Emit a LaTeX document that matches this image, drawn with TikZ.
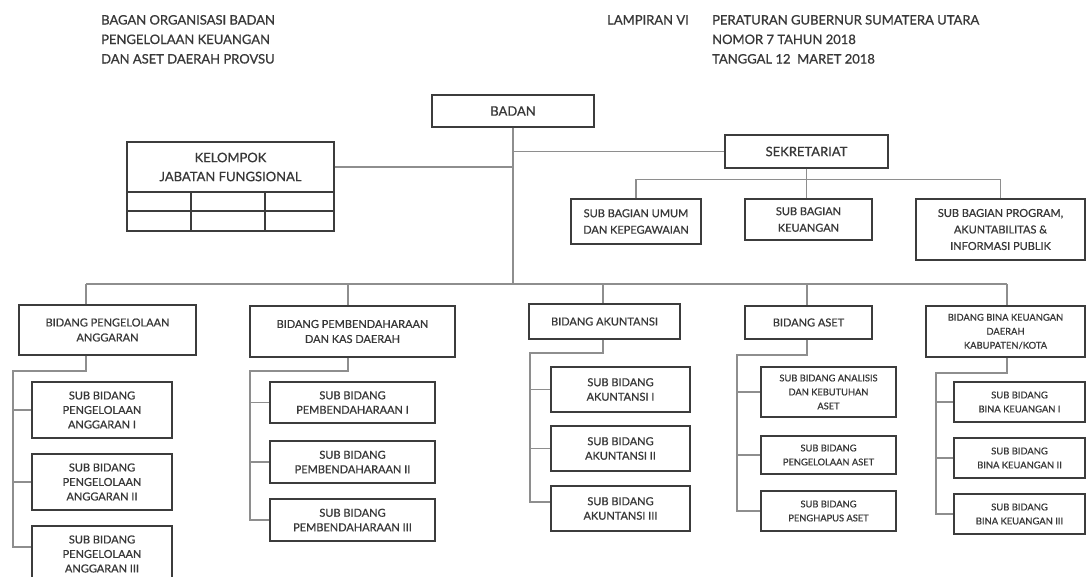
\documentclass[tikz,border=0pt]{standalone}
\usepackage{fontspec}
\setmainfont{Lato}[FakeBold=0.8]
\definecolor{garis}{HTML}{3C3C3C}
\definecolor{penghubung}{HTML}{8E8E8E}
\definecolor{tulisan}{HTML}{383838}

\begin{document}
\begin{tikzpicture}[x=1pt,y=-1pt,
	huruf/.style 2 args={font=\fontsize{#1}{#2}\selectfont},
	ukuran/.style 2 args={minimum width=#1pt, minimum height=#2pt},
	kotak/.style={draw=garis, line width=1.4pt, text=tulisan, align=center, inner sep=1pt},
	hub/.style={draw=penghubung, line width=1.1pt},
	judul/.style={anchor=base west, text=tulisan, inner sep=0pt, huruf={13}{20}}]
	\useasboundingbox (0,0) rectangle (1087,576);
	\clip (0,0) rectangle (1087,576);
	\node[judul] (judul1) at (101,24.5) {BAGAN ORGANISASI BADAN};
	\node[judul] (judul2) at (101,44) {PENGELOLAAN KEUANGAN};
	\node[judul] (judul3) at (101,63.5) {DAN ASET DAERAH PROVSU};
	\node[judul] (lampiran) at (607,24.5) {LAMPIRAN VI};
	\node[judul] (pergub1) at (712,24.5) {PERATURAN GUBERNUR SUMATERA UTARA};
	\node[judul] (pergub2) at (712,44) {NOMOR 7 TAHUN 2018};
	\node[judul] (pergub3) at (712,63.5) {TANGGAL 12\ \ MARET 2018};

	\node[kotak, ukuran={162}{32}, huruf={13}{17}] (badan) at (513,111) {BADAN};
	\node[kotak, ukuran={207}{50}, huruf={13}{19}] (kjf) at (230.5,167) {KELOMPOK\\JABATAN FUNGSIONAL};
	\draw[kotak] (127,192) rectangle (334,231);
	\draw[kotak] (127,211) -- (334,211);
	\foreach \x in {191,265} \draw[kotak] (\x,192) -- (\x,231);
	\node[kotak, ukuran={163}{33}, huruf={13}{17}] (sek) at (806.5,151.5) {SEKRETARIAT};
	\node[kotak, ukuran={130}{45}, huruf={11}{16.5}] (umum) at (636,221.5) {SUB BAGIAN UMUM\\DAN KEPEGAWAIAN};
	\node[kotak, ukuran={127}{41}, huruf={11}{16.5}] (keu) at (808.5,219.5) {SUB BAGIAN\\KEUANGAN};
	\node[kotak, ukuran={169}{61}, huruf={11}{16.5}] (prog) at (1000.5,229.5) {SUB BAGIAN PROGRAM,\\AKUNTABILITAS \&\\INFORMASI PUBLIK};

	\coordinate (bus1) at (86,284);
	\coordinate (bus2) at (348,284);
	\coordinate (bus3) at (603,284);
	\coordinate (bus4) at (807,284);
	\coordinate (bus5) at (1007,284);
	\draw[hub] (badan.south) -- (badan.south |- bus1);
	\draw[hub] (kjf.east) -- (kjf.east -| badan.south);
	\draw[hub] (sek.west -| badan.south) -- (sek.west);
	\draw[hub] (sek.south) -- (sek.south |- keu.north);
	\draw[hub] (umum.north) -- ++(0,-19) -| (prog.north);
	\draw[hub] (bus1) -- (bus5);

	\node[kotak, ukuran={177}{50}, huruf={11}{15}] (bpa) at (107.5,330) {BIDANG PENGELOLAAN\\ANGGARAN};
	\node[kotak, ukuran={205}{51}, huruf={11}{15}] (bpk) at (352.5,331.5) {BIDANG PEMBENDAHARAAN\\DAN KAS DAERAH};
	\node[kotak, ukuran={151}{35}, huruf={11}{15}] (akt) at (604.5,321.5) {BIDANG AKUNTANSI};
	\node[kotak, ukuran={127}{33}, huruf={11}{15}] (aset) at (808.5,322.5) {BIDANG ASET};
	\node[kotak, ukuran={159}{51}, huruf={9.4}{14}] (bina) at (1005.5,331.5) {BIDANG BINA KEUANGAN\\DAERAH\\KABUPATEN/KOTA};
	\draw[hub] (bus1) -- (bus1 |- bpa.north);
	\draw[hub] (bus2) -- (bus2 |- bpk.north);
	\draw[hub] (bus3) -- (bus3 |- akt.north);
	\draw[hub] (bus4) -- (bus4 |- aset.north);
	\draw[hub] (bus5) -- (bus5 |- bina.north);

	\node[kotak, ukuran={140}{56}, huruf={11}{14.5}] (bpa1) at (102,410) {SUB BIDANG\\PENGELOLAAN\\ANGGARAN I};
	\node[kotak, ukuran={140}{56}, huruf={11}{14.5}] (bpa2) at (102,482) {SUB BIDANG\\PENGELOLAAN\\ANGGARAN II};
	\node[kotak, ukuran={140}{56}, huruf={11}{14.5}] (bpa3) at (102,554) {SUB BIDANG\\PENGELOLAAN\\ANGGARAN III};
	\coordinate (tulang1) at (13,371);
	\draw[hub] (bus1 |- bpa.south) |- (tulang1) |- ([yshift=7pt]bpa3.west);
	\foreach \s in {bpa1,bpa2} \draw[hub] (tulang1 |- \s.west) -- (\s.west);

	\node[kotak, ukuran={165}{41}, huruf={11}{14.5}] (bpk1) at (352.5,402.5) {SUB BIDANG\\PEMBENDAHARAAN I};
	\node[kotak, ukuran={165}{42}, huruf={11}{14.5}] (bpk2) at (352.5,462) {SUB BIDANG\\PEMBENDAHARAAN II};
	\node[kotak, ukuran={165}{42}, huruf={11}{14.5}] (bpk3) at (352.5,520) {SUB BIDANG\\PEMBENDAHARAAN III};
	\coordinate (tulang2) at (250,371);
	\draw[hub] (bus2 |- bpk.south) |- (tulang2) |- (bpk3.west);
	\foreach \s in {bpk1,bpk2} \draw[hub] (tulang2 |- \s.west) -- (\s.west);

	\node[kotak, ukuran={139}{45}, huruf={11}{14.5}] (akt1) at (620.5,389.5) {SUB BIDANG\\AKUNTANSI I};
	\node[kotak, ukuran={139}{45}, huruf={11}{14.5}] (akt2) at (620.5,448.5) {SUB BIDANG\\AKUNTANSI II};
	\node[kotak, ukuran={139}{45}, huruf={11}{14.5}] (akt3) at (620.5,508.5) {SUB BIDANG\\AKUNTANSI III};
	\coordinate (tulang3) at (530,353);
	\draw[hub] (bus3 |- akt.south) |- (tulang3) |- ([yshift=6.5pt]akt3.west);
	\foreach \s in {akt1,akt2} \draw[hub] (tulang3 |- \s.west) -- (\s.west);

	\node[kotak, ukuran={135}{50}, huruf={9.3}{14}] (aset1) at (828.5,392) {SUB BIDANG ANALISIS\\DAN KEBUTUHAN\\ASET};
	\node[kotak, ukuran={135}{38}, huruf={9.3}{14}] (aset2) at (828.5,455) {SUB BIDANG\\PENGELOLAAN ASET};
	\node[kotak, ukuran={135}{40}, huruf={9.3}{14}] (aset3) at (828.5,511) {SUB BIDANG\\PENGHAPUS ASET};
	\coordinate (tulang4) at (737,355);
	\draw[hub] (bus4 |- aset.south) |- (tulang4) |- (aset3.west);
	\foreach \s in {aset1,aset2} \draw[hub] (tulang4 |- \s.west) -- (\s.west);

	\node[kotak, ukuran={131}{40}, huruf={9.4}{14}] (bina1) at (1019.5,402) {SUB BIDANG\\BINA KEUANGAN I};
	\node[kotak, ukuran={131}{40}, huruf={9.4}{14}] (bina2) at (1019.5,458) {SUB BIDANG\\BINA KEUANGAN II};
	\node[kotak, ukuran={131}{40}, huruf={9.4}{14}] (bina3) at (1019.5,514) {SUB BIDANG\\BINA KEUANGAN III};
	\coordinate (tulang5) at (936,373);
	\draw[hub] (bus5 |- bina.south) |- (tulang5) |- (bina3.west);
	\foreach \s in {bina1,bina2} \draw[hub] (tulang5 |- \s.west) -- (\s.west);
\end{tikzpicture}
\end{document}
